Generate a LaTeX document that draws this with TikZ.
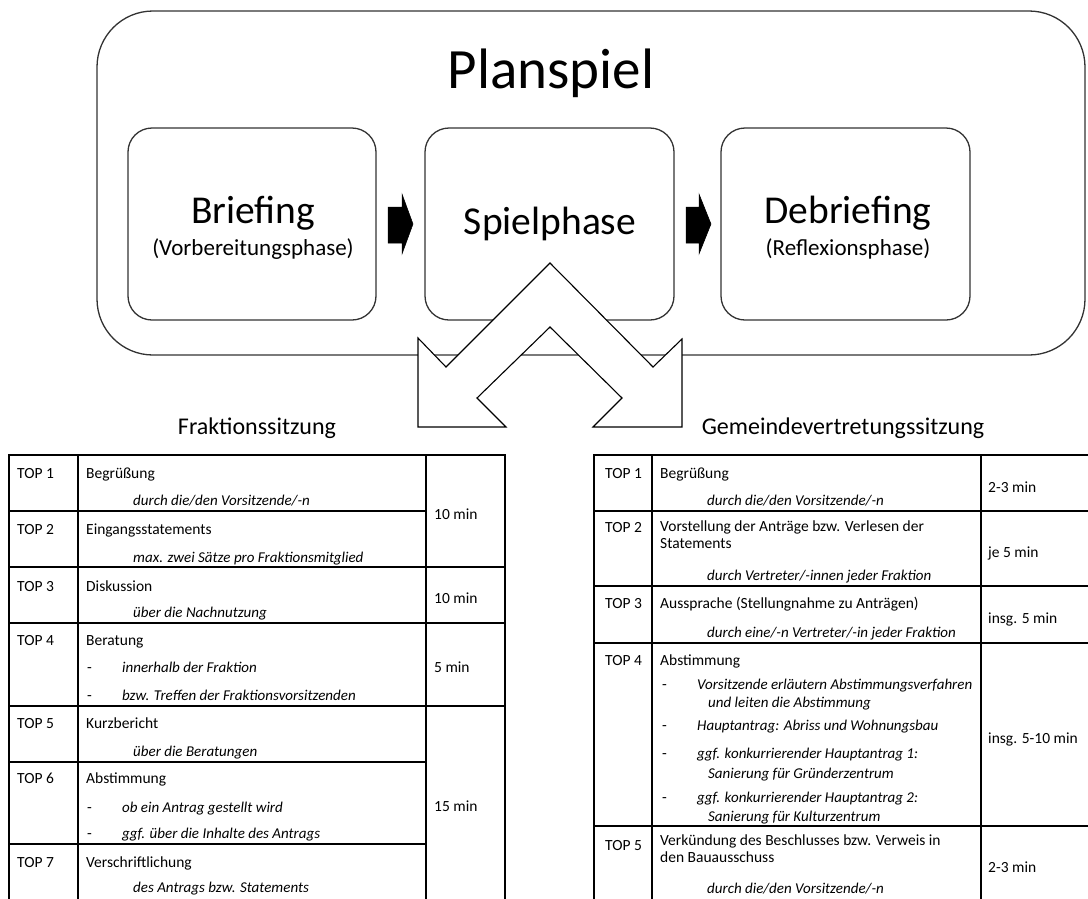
\documentclass[tikz,border=0pt]{standalone}
\usepackage{fontspec}
\setmainfont{Carlito}
\begin{document}
\begin{tikzpicture}[x=1pt,y=-1pt,
  box/.style={draw=black!80,line width=1.3pt},
  grid/.style={draw=black,line width=1.1pt},
  txt/.style={anchor=base west,inner sep=0pt,font=\fontsize{15.5}{17}\selectfont},
  sub/.style={txt,font=\fontsize{15}{17}\selectfont\itshape},
  ctr/.style={anchor=base,inner sep=0pt},
  phase/.style={ctr,font=\fontsize{39.5}{42}\selectfont},
  phasesub/.style={ctr,font=\fontsize{23}{26}\selectfont},
  head/.style={ctr,font=\fontsize{24}{26}\selectfont},
  blk/.style={fill=black,draw=black,line width=0.5pt},
  big/.style={draw=black,line width=1.1pt,fill=white,line join=miter}]
\useasboundingbox (0,0) rectangle (1088,898);
\clip (0,0) rectangle (1088,898);
% ---------- top part ----------
\draw[box,rounded corners=56pt] (97,11) rectangle (1085,355);
\node[ctr,font=\fontsize{57}{60}\selectfont] (title) at (551,88) {Planspiel};
\draw[box,rounded corners=24pt] (128,128) rectangle (376,320);
\draw[box,rounded corners=24pt] (425,128) rectangle (674,320);
\draw[box,rounded corners=24pt] (721,128) rectangle (970,320);
\node[phase] (brief) at (253,223) {Briefing};
\node[phasesub] (briefsub) at (253,255) {(Vorbereitungsphase)};
\node[phase] (spiel) at (550,234) {Spielphase};
\node[phase] (debrief) at (848,223) {Debriefing};
\node[phasesub] (debriefsub) at (848,255) {(Reflexionsphase)};
\draw[blk] (388,207) -- (402,207) -- (402,194) -- (413,224) -- (402,254) -- (402,243) -- (388,243) -- cycle;
\draw[blk] (686,207) -- (699,207) -- (699,194) -- (711,224) -- (699,254) -- (699,243) -- (686,243) -- cycle;
\draw[big] (550,263) -- (446,367) -- (418,338) -- (418,427) -- (506,427) -- (477,398) -- (550,327)
  -- (622,398) -- (593,427) -- (682,427) -- (682,339) -- (653,367) -- cycle;
% ---------- headings ----------
\node[head] (h1) at (257,434) {Fraktionssitzung};
\node[head] (h2) at (843,434) {Gemeindevertretungssitzung};
% ---------- left table ----------
\draw[grid] (9,900) -- (9,455) -- (505,455) -- (505,900);
\draw[grid] (78,455) -- (78,900);
\draw[grid] (426,455) -- (426,900);
\draw[grid] (9,511) -- (426,511);
\draw[grid] (9,567) -- (505,567);
\draw[grid] (9,623) -- (505,623);
\draw[grid] (9,706) -- (505,706);
\draw[grid] (9,762) -- (426,762);
\draw[grid] (9,844) -- (426,844);
\node[txt] (l1) at (17,478) {TOP 1};
\node[txt] (l1a) at (86,478) {Begrüßung};
\node[sub] (l1b) at (133,505) {durch die/den Vorsitzende/-n};
\node[txt] (l1t) at (434,519) {10 min};
\node[txt] (l2) at (17,534) {TOP 2};
\node[txt] (l2a) at (86,534) {Eingangsstatements};
\node[sub] (l2b) at (133,562) {max. zwei Sätze pro Fraktionsmitglied};
\node[txt] (l3) at (17,591) {TOP 3};
\node[txt] (l3a) at (86,591) {Diskussion};
\node[sub] (l3b) at (133,617) {über die Nachnutzung};
\node[txt] (l3t) at (434,603) {10 min};
\node[txt] (l4) at (17,645) {TOP 4};
\node[txt] (l4a) at (86,645) {Beratung};
\node[txt] (l4d1) at (87,672) {-};
\node[sub] (l4b) at (122,672) {innerhalb der Fraktion};
\node[txt] (l4d2) at (87,700) {-};
\node[sub] (l4c) at (122,700) {bzw. Treffen der Fraktionsvorsitzenden};
\node[txt] (l4t) at (434,672) {5 min};
\node[txt] (l5) at (17,728) {TOP 5};
\node[txt] (l5a) at (86,728) {Kurzbericht};
\node[sub] (l5b) at (133,756) {über die Beratungen};
\node[txt] (l6) at (17,783) {TOP 6};
\node[txt] (l6a) at (86,783) {Abstimmung};
\node[txt] (l6d1) at (87,812) {-};
\node[sub] (l6b) at (122,812) {ob ein Antrag gestellt wird};
\node[txt] (l6d2) at (87,838) {-};
\node[sub] (l6c) at (122,838) {ggf. über die Inhalte des Antrags};
\node[txt] (l6t) at (434,811) {15 min};
\node[txt] (l7) at (17,867) {TOP 7};
\node[txt] (l7a) at (86,867) {Verschriftlichung};
\node[sub] (l7b) at (133,892) {des Antrags bzw. Statements};
% ---------- right table ----------
\draw[grid] (594,900) -- (594,455) -- (1090,455);
\draw[grid] (652,455) -- (652,900);
\draw[grid] (981,455) -- (981,900);
\draw[grid] (594,511) -- (1090,511);
\draw[grid] (594,586) -- (1090,586);
\draw[grid] (594,643) -- (1090,643);
\draw[grid] (594,826) -- (1090,826);
\node[txt] (r1) at (605,478) {TOP 1};
\node[txt] (r1a) at (660,478) {Begrüßung};
\node[sub] (r1b) at (707,505) {durch die/den Vorsitzende/-n};
\node[txt] (r1t) at (988,492) {2-3 min};
\node[txt] (r2) at (605,532) {TOP 2};
\node[txt] (r2a) at (660,531) {Vorstellung der Anträge bzw. Verlesen der};
\node[txt] (r2a2) at (660,548) {Statements};
\node[sub] (r2b) at (707,580) {durch Vertreter/-innen jeder Fraktion};
\node[txt] (r2t) at (988,557) {je 5 min};
\node[txt] (r3) at (605,608) {TOP 3};
\node[txt] (r3a) at (660,608) {Aussprache (Stellungnahme zu Anträgen)};
\node[sub] (r3b) at (707,637) {durch eine/-n Vertreter/-in jeder Fraktion};
\node[txt] (r3t) at (988,623) {insg. 5 min};
\node[txt] (r4) at (605,665) {TOP 4};
\node[txt] (r4a) at (660,665) {Abstimmung};
\node[txt] (r4d1) at (662,689) {-};
\node[sub] (r4b) at (697,689) {Vorsitzende erläutern Abstimmungsverfahren};
\node[sub] (r4b2) at (708,707) {und leiten die Abstimmung};
\node[txt] (r4d2) at (662,730) {-};
\node[sub] (r4c) at (697,730) {Hauptantrag: Abriss und Wohnungsbau};
\node[txt] (r4d3) at (662,758) {-};
\node[sub] (r4e) at (697,758) {ggf. konkurrierender Hauptantrag 1:};
\node[sub] (r4e2) at (708,778) {Sanierung für Gründerzentrum};
\node[txt] (r4d4) at (662,802) {-};
\node[sub] (r4f) at (697,802) {ggf. konkurrierender Hauptantrag 2:};
\node[sub] (r4f2) at (708,821) {Sanierung für Kulturzentrum};
\node[txt] (r4t) at (988,743) {insg. 5-10 min};
\node[txt] (r5) at (605,850) {TOP 5};
\node[txt] (r5a) at (660,845) {Verkündung des Beschlusses bzw. Verweis in};
\node[txt] (r5a2) at (660,862) {den Bauausschuss};
\node[sub] (r5b) at (707,893) {durch die/den Vorsitzende/-n};
\node[txt] (r5t) at (988,872) {2-3 min};
\end{tikzpicture}
\end{document}
